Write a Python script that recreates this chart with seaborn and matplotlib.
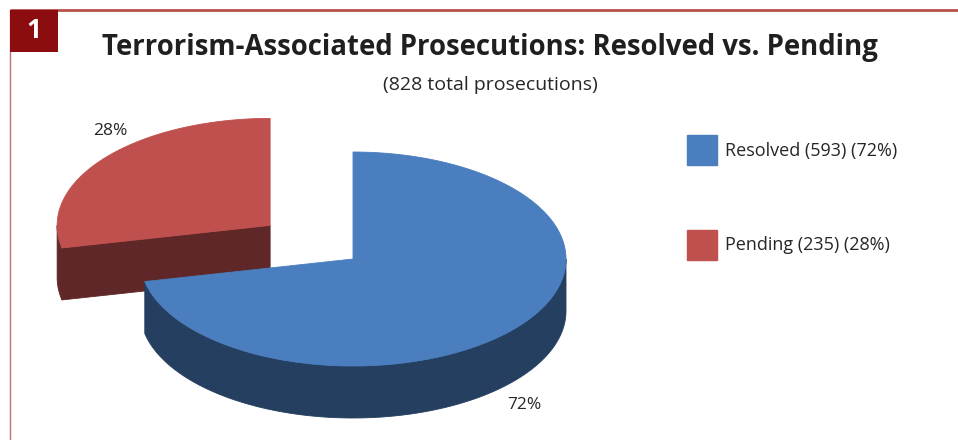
import numpy as np
import matplotlib
matplotlib.use("Agg")
import matplotlib.pyplot as plt
import seaborn as sns
from matplotlib.patches import Polygon, Rectangle, Patch

# ----- Data -----
labels = ["Resolved", "Pending"]
values = [593, 235]
top_colors = ["#4A7EBF", "#C0504D"]
side_colors = ["#243F5F", "#5F2727"]
explode = [0.0, 0.5]
total = sum(values)

# ----- Style -----
sns.set_theme(style="white")
plt.rcParams["font.family"] = ["Open Sans", "DejaVu Sans"]

fig = plt.figure(figsize=(9.58, 4.4), dpi=100)
ax = fig.add_axes([0, 0, 1, 1])
ax.set_xlim(0, 958)
ax.set_ylim(440, 0)
ax.axis("off")

# pie geometry (pixels)
cx0, cy0 = 353, 259
rx, ry, depth = 213, 107, 52


def arc(cx, cy, a1, a2, dy=0, n=200):
    t = np.radians(np.linspace(a1, a2, n))
    return np.column_stack([cx + rx * np.cos(t), cy - ry * np.sin(t) + dy])


def poly(pts, color, z):
    ax.add_patch(Polygon(pts, closed=True, facecolor=color, edgecolor=color,
                         linewidth=0.6, zorder=z))


# slices run clockwise from 12 o'clock
fracs = np.array(values) / total
ends = 90 - 360 * np.cumsum(fracs)
starts = np.r_[90, ends[:-1]]
slices = []
for i in range(len(values)):
    a1, a2 = ends[i], starts[i]          # counter-clockwise span
    while a1 < 0:
        a1 += 360
    if a2 < a1:
        a2 += 360
    mid = np.radians((a1 + a2) / 2)
    cx = cx0 + explode[i] * rx * np.cos(mid)
    cy = cy0 - explode[i] * ry * np.sin(mid)
    slices.append((a1, a2, mid, cx, cy))

# draw the back slice (exploded) first
order = sorted(range(len(values)), key=lambda k: -explode[k])
z = 2
for i in order:
    a1, a2, mid, cx, cy = slices[i]
    # cut faces
    for a, nrm in ((a1, a1 - 90), (a2, a2 + 90)):
        if np.sin(np.radians(nrm)) < -1e-6:
            p = arc(cx, cy, a, a, n=1)[0]
            pts = [(cx, cy), tuple(p), (p[0], p[1] + depth), (cx, cy + depth)]
            poly(pts, side_colors[i], z)
    # front rim
    for k in range(-1, 3):
        lo, hi = max(a1, 180 + 360 * k), min(a2, 360 + 360 * k)
        if hi > lo:
            top = arc(cx, cy, lo, hi)
            bot = arc(cx, cy, lo, hi, dy=depth)[::-1]
            poly(np.vstack([top, bot]), side_colors[i], z)
    # top face
    poly(np.vstack([[cx, cy], arc(cx, cy, a1, a2), [cx, cy]]), top_colors[i], z + 1)
    # percentage label
    ly = cy - 1.4 * ry * np.sin(mid) + (depth if np.sin(mid) < 0 else 0)
    ax.text(cx + rx * np.cos(mid) + 6, ly, f"{round(100 * values[i] / total)}%",
            ha="center", va="center", fontsize=12.5, color="#262626", zorder=10)
    z += 2

# ----- Legend -----
fs = 13
fpx = fs * 100 / 72
hl = 30 / fpx
hh = (hl - 0.245) / 0.65
handles = [Patch(facecolor=c, edgecolor=c) for c in top_colors]
leg_labels = [f"{l} ({v}) ({round(100 * v / total)}%)" for l, v in zip(labels, values)]
leg = ax.legend(handles, leg_labels, loc="upper left", bbox_to_anchor=(687 / 958, 1 - 135 / 440),
                frameon=False, handlelength=hl, handleheight=hh, handletextpad=0.45,
                labelspacing=(104 - hh * fpx) / fpx, borderaxespad=0, borderpad=0,
                prop={"size": fs})
for t in leg.get_texts():
    t.set_color("#262626")

# ----- Titles & frame -----
ax.text(490, 48, "Terrorism-Associated Prosecutions: Resolved vs. Pending",
        ha="center", va="center", fontsize=19.8, fontweight="bold", color="#1F1F1F")
ax.text(490, 85, "(828 total prosecutions)", ha="center", va="center",
        fontsize=14, color="#262626")

ax.plot([10, 958], [10, 10], color="#B8504E", lw=2, solid_capstyle="butt", zorder=1)
ax.plot([10, 10], [10, 440], color="#C07070", lw=1, solid_capstyle="butt", zorder=1)
ax.add_patch(Rectangle((10, 10), 48, 42, facecolor="#8B0D10", edgecolor="none", zorder=5))
ax.text(34, 31, "1", ha="center", va="center", fontsize=19, fontweight="bold",
        color="white", zorder=6)

fig.savefig("out.png", dpi=100)
